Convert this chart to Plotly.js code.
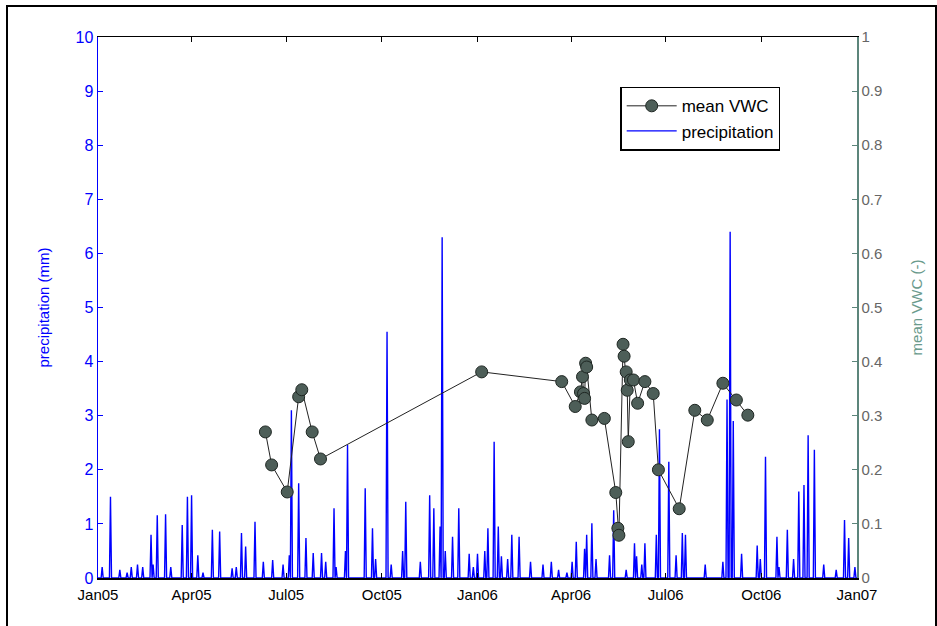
<!DOCTYPE html>
<html>
<head>
<meta charset="utf-8">
<script src="https://cdn.plot.ly/plotly-3.0.1.min.js"></script>
<style>
  html, body { margin: 0; padding: 0; background: #fff; }
  #wrap { position: relative; width: 937px; height: 626px; overflow: hidden; }
  #frame { position: absolute; left: 6px; top: 5px; width: 927px; height: 640px; border: 2px solid #000; pointer-events: none; }
  #chart { position: absolute; left: 0; top: 0; width: 937px; height: 626px; }
</style>
</head>
<body>
<div id="wrap">
  <div id="chart"></div>
  <div id="frame"></div>
</div>
<script>
// Daily precipitation (mm): days with rain; other days are dry (0)
const precipDates = [
  '2005-01-05','2005-01-13','2005-01-22','2005-01-29','2005-02-02','2005-02-08','2005-02-13','2005-02-21','2005-02-23','2005-02-27',
  '2005-03-07','2005-03-12','2005-03-23','2005-03-28','2005-04-01','2005-04-07','2005-04-12','2005-04-21','2005-04-28','2005-05-10',
  '2005-05-14','2005-05-19','2005-05-23','2005-06-01','2005-06-09','2005-06-18','2005-06-28','2005-07-04','2005-07-06','2005-07-13',
  '2005-07-20','2005-07-27','2005-08-04','2005-08-08','2005-08-16','2005-08-18','2005-08-27','2005-08-29','2005-09-15','2005-09-22',
  '2005-09-25','2005-10-06','2005-10-10','2005-10-21','2005-10-24','2005-11-07','2005-11-16','2005-11-20','2005-11-26','2005-11-28',
  '2005-12-01','2005-12-08','2005-12-14','2005-12-24','2005-12-28','2006-01-01','2006-01-08','2006-01-11','2006-01-17','2006-01-21',
  '2006-01-24','2006-01-30','2006-02-03','2006-02-10','2006-02-21','2006-03-05','2006-03-13','2006-03-20','2006-03-28','2006-04-02',
  '2006-04-06','2006-04-14','2006-04-16','2006-04-21','2006-04-25','2006-05-08','2006-05-12','2006-05-24','2006-06-01','2006-06-03',
  '2006-06-08','2006-06-11','2006-06-22','2006-06-25','2006-07-04','2006-07-11','2006-07-17','2006-07-20','2006-08-08','2006-08-25',
  '2006-08-29','2006-09-01','2006-09-04','2006-09-12','2006-09-27','2006-09-30','2006-10-05','2006-10-16','2006-10-18','2006-10-26',
  '2006-11-01','2006-11-06','2006-11-11','2006-11-15','2006-11-21','2006-11-30','2006-12-12','2006-12-20','2006-12-24','2006-12-30'
];
const precipValues = [
  0.2,1.5,0.15,0.1,0.2,0.25,0.2,0.8,0.25,1.16,
  1.18,0.2,0.98,1.5,1.53,0.42,0.1,0.89,0.86,0.18,
  0.2,0.83,0.58,1.04,0.3,0.33,0.25,0.42,3.1,1.75,
  0.74,0.46,0.46,0.3,1.29,0.2,0.5,2.46,1.66,0.92,
  0.35,4.55,0.25,0.5,1.41,0.3,1.53,1.29,0.95,6.3,
  0.5,0.76,1.29,0.45,0.2,0.45,0.5,0.92,2.52,0.95,
  0.4,0.35,0.8,0.76,0.3,0.25,0.3,0.15,0.1,0.3,
  0.67,0.54,0.8,1.01,0.35,0.42,1.25,0.15,0.64,0.4,
  0.25,0.64,0.8,2.75,2.15,0.42,0.83,0.8,0.25,0.3,
  3.3,6.4,2.9,0.45,0.6,0.35,2.24,0.76,0.2,0.89,
  0.35,1.6,1.72,2.64,2.37,0.25,0.15,1.07,0.74,0.2
];

// Mean volumetric water content (-)
const vwcDates = [
  '2005-06-11','2005-06-17','2005-07-02','2005-07-13','2005-07-16','2005-07-26','2005-08-03','2006-01-05','2006-03-23','2006-04-05',
  '2006-04-10','2006-04-12','2006-04-13','2006-04-14','2006-04-15','2006-04-16','2006-04-21','2006-05-03','2006-05-14','2006-05-16',
  '2006-05-17','2006-05-21','2006-05-22','2006-05-24','2006-05-25','2006-05-26','2006-05-28','2006-05-31','2006-06-04','2006-06-11',
  '2006-06-19','2006-06-24','2006-07-14','2006-07-29','2006-08-10','2006-08-25','2006-09-07','2006-09-18'
];
const vwcValues = [
  0.27,0.209,0.159,0.335,0.348,0.27,0.22,0.381,0.363,0.317,
  0.344,0.372,0.341,0.332,0.397,0.39,0.292,0.295,0.158,0.092,
  0.079,0.432,0.41,0.381,0.347,0.252,0.366,0.366,0.323,0.363,
  0.341,0.2,0.128,0.31,0.292,0.36,0.329,0.301
];

const xTickFormat = '%b%y';

// build the daily precipitation record (dry days = 0)
const rain = {};
precipDates.forEach((d, i) => { rain[d] = precipValues[i]; });
const dayX = [], dayY = [];
const start = Date.UTC(2005, 0, 1), end = Date.UTC(2007, 0, 1);
for (let t = start; t <= end; t += 86400000) {
  const s = new Date(t).toISOString().slice(0, 10);
  dayX.push(s);
  dayY.push(rain[s] !== undefined ? rain[s] : 0);
}

const traces = [
  {
    x: dayX, y: dayY, type: 'scatter', mode: 'lines', name: 'precipitation',
    line: { color: '#0000ff', width: 1.4 }, yaxis: 'y', legendrank: 2
  },
  {
    x: vwcDates, y: vwcValues, type: 'scatter', mode: 'lines+markers', name: 'mean VWC',
    line: { color: '#222222', width: 1 },
    marker: { size: 12, color: '#4d5e58', line: { color: '#1e2622', width: 1 } },
    yaxis: 'y2', legendrank: 1
  }
];

const layout = {
  width: 937, height: 626,
  margin: { l: 98, r: 80, t: 37, b: 48 },
  paper_bgcolor: 'rgba(0,0,0,0)', plot_bgcolor: '#ffffff',
  font: { family: 'Liberation Sans, Arial, sans-serif', size: 14, color: '#000' },
  showlegend: true,
  legend: {
    x: 0.688, y: 0.908, xanchor: 'left', yanchor: 'top',
    bgcolor: '#ffffff', bordercolor: '#000', borderwidth: 1.5,
    font: { size: 17, color: '#000' }, tracegroupgap: 0, itemwidth: 50
  },
  xaxis: {
    type: 'date', range: ['2005-01-01', '2007-01-01'],
    tick0: '2005-01-01', dtick: 'M3', tickformat: xTickFormat,
    ticks: 'inside', ticklen: 5, tickcolor: '#000',
    showline: true, linecolor: '#000', linewidth: 1.5, mirror: 'ticks',
    showgrid: false, zeroline: false, ticklabelstandoff: 2,
    tickfont: { size: 15, color: '#000' }
  },
  yaxis: {
    range: [0, 10], dtick: 1, ticks: 'inside', ticklen: 5, tickcolor: '#0000ff',
    showline: true, linecolor: '#0000ff', linewidth: 1.5,
    showgrid: false, zeroline: false,
    tickfont: { size: 16, color: '#0000ff' },
    title: { text: 'precipitation (mm)', font: { size: 15, color: '#0000ff' }, standoff: 22 }
  },
  yaxis2: {
    overlaying: 'y', side: 'right', range: [0, 1], dtick: 0.1,
    ticks: 'inside', ticklen: 5, tickcolor: '#5c857b',
    showline: true, linecolor: '#5c857b', linewidth: 1.5,
    showgrid: false, zeroline: false,
    tickfont: { size: 15, color: '#666666' },
    title: { text: 'mean VWC (-)', font: { size: 15, color: '#6a9a8c' }, standoff: 30 }
  }
};

Plotly.newPlot('chart', traces, layout, { displayModeBar: false, staticPlot: true });
</script>
</body>
</html>
